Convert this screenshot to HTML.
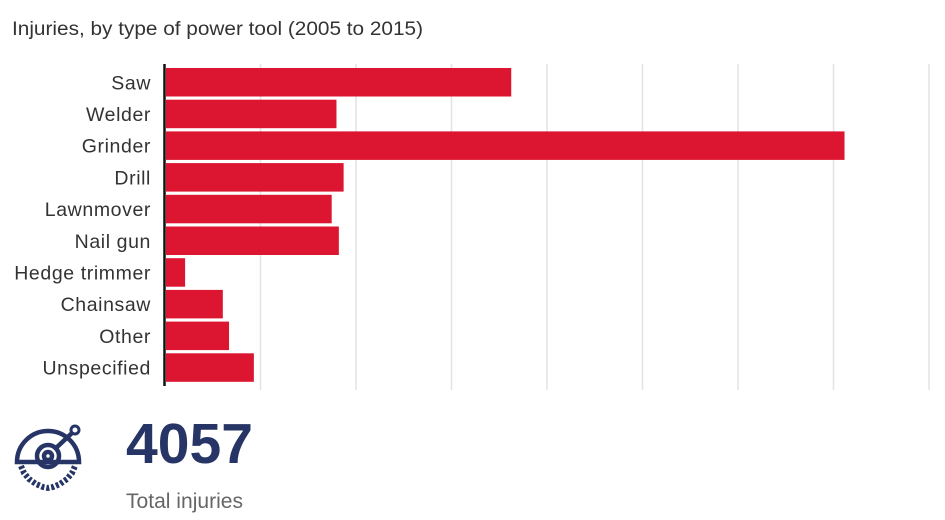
<!DOCTYPE html>
<html><head><meta charset="utf-8"><style>
body{margin:0;background:#fff;width:945px;height:520px;overflow:hidden;font-family:"Liberation Sans",sans-serif}
svg{display:block}
</style></head><body>
<svg id="chart" width="945" height="520">
<text x="12" y="35" font-size="19" fill="#333" textLength="411" lengthAdjust="spacingAndGlyphs">Injuries, by type of power tool (2005 to 2015)</text>
<g id="grid"></g><g id="bars"></g><g id="labels"></g>
<line x1="164.5" y1="64" x2="164.5" y2="386" stroke="#111" stroke-width="2.5"/>
<g fill="none" stroke="#263566" stroke-width="4.5">
<path d="M17 462 A31 31 0 1 1 79 462 Z"/>
<circle cx="48" cy="456" r="11"/>
<circle cx="48" cy="456" r="4"/>
<line x1="56" y1="448" x2="72" y2="433"/>
<circle cx="75" cy="430" r="4" stroke-width="3"/>
<path d="M21 466 L24 473 L29 479 L36 484 L43 487 L48 488 L53 487 L60 484 L67 479 L72 473 L75 466" stroke-dasharray="3 2" stroke-width="6"/>
</g>
<text x="126" y="463" font-size="57" font-weight="bold" fill="#263566" textLength="127" lengthAdjust="spacingAndGlyphs">4057</text>
<text x="126" y="508" font-size="21" fill="#666" textLength="117" lengthAdjust="spacingAndGlyphs">Total injuries</text>
</svg>
<script>
const categories=["Saw","Welder","Grinder","Drill","Lawnmover","Nail gun","Hedge trimmer","Chainsaw","Other","Unspecified"];
const values=[723,357,1421,372,347,362,40,119,132,184];
const gridTicks=[200,400,600,800,1000,1200,1400,1600];
const NS="http://www.w3.org/2000/svg";
const x0=166,pxPer=0.4775,y0=68,pitch=31.7,bh=28.5;
const xs=v=>x0+v*pxPer;
const g=document.getElementById('grid'),b=document.getElementById('bars'),l=document.getElementById('labels');
gridTicks.forEach(t=>{const ln=document.createElementNS(NS,'line');
ln.setAttribute('x1',xs(t)-1);ln.setAttribute('x2',xs(t)-1);ln.setAttribute('y1',64);ln.setAttribute('y2',390);
ln.setAttribute('stroke','#e3e3e3');ln.setAttribute('stroke-width','1.5');


g.appendChild(ln);});
categories.forEach((c,i)=>{const y=y0+i*pitch;
const r=document.createElementNS(NS,'rect');
r.setAttribute('x',x0);r.setAttribute('y',y);r.setAttribute('width',xs(values[i])-x0);r.setAttribute('height',bh);r.setAttribute('fill','#dc1530');


b.appendChild(r);
const t=document.createElementNS(NS,'text');
t.setAttribute('x',151);t.setAttribute('y',y+bh/2+7);t.setAttribute('text-anchor','end');t.setAttribute('font-size','19.5');t.setAttribute('fill','#333');
t.setAttribute('style','letter-spacing:0.6px');
t.textContent=c;


l.appendChild(t);});
</script>
</body></html>
